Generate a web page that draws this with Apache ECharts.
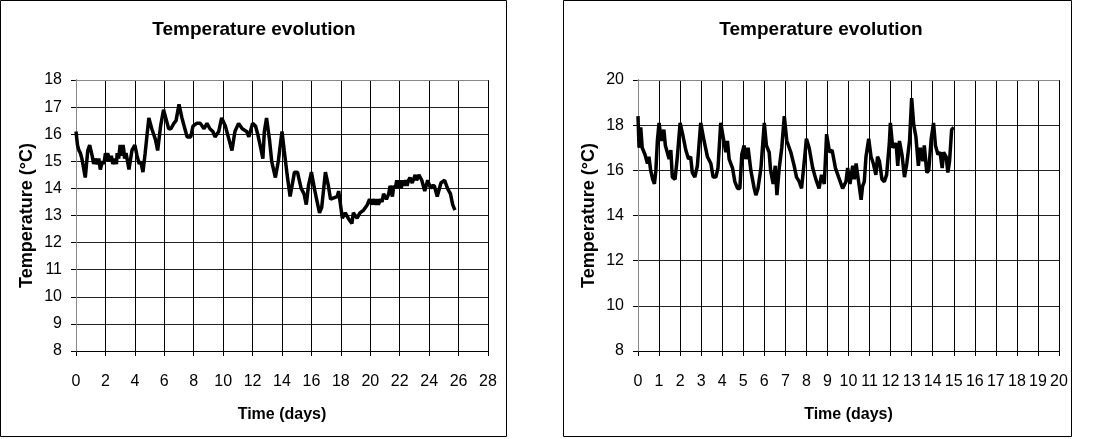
<!DOCTYPE html>
<html>
<head>
<meta charset="utf-8">
<title>Temperature evolution</title>
<script src="https://cdn.jsdelivr.net/npm/echarts@6/dist/echarts.min.js"></script>
<style>
html,body{margin:0;padding:0;background:#fff;}
#main{width:1112px;height:439px;}
</style>
</head>
<body>
<div id="main"></div>
<script>
// left chart : ~26 days of readings
var leftDays = [0,0.1,0.2,0.3,0.4,0.5,0.63,0.8,0.93,1.1,1.2,1.3,1.45,1.55,1.65,1.8,1.9,2.0,2.1,2.15,2.3,2.4,2.5,2.65,2.75,2.8,2.9,3.0,3.1,3.2,3.25,3.3,3.4,3.6,3.8,4.0,4.15,4.3,4.4,4.55,4.7,4.95,5.15,5.4,5.55,5.75,5.95,6.2,6.3,6.45,6.65,6.8,7.0,7.2,7.45,7.55,7.8,7.95,8.2,8.45,8.7,8.9,9.1,9.3,9.45,9.7,9.9,10.15,10.4,10.6,10.8,11.05,11.3,11.6,11.75,12.0,12.2,12.35,12.55,12.7,12.8,12.95,13.15,13.3,13.55,13.75,14.0,14.15,14.35,14.55,14.85,15.05,15.3,15.5,15.65,15.8,16.0,16.2,16.35,16.55,16.7,16.95,17.15,17.3,17.75,17.85,17.95,18.1,18.3,18.5,18.75,18.85,19.1,19.3,19.55,19.8,
	19.95,20.1,20.2,20.35,20.45,20.55,20.7,20.8,20.9,21.1,21.25,21.35,21.5,21.6,21.7,21.8,21.9,22.0,22.1,22.2,22.3,22.4,22.5,22.6,22.7,22.85,23.05,23.15,23.3,23.5,23.7,23.9,24.1,24.2,24.35,24.55,24.8,25.05,25.25,25.45,25.6,25.75];
var leftTemps = [16.1,15.6,15.4,15.3,15.1,14.8,14.4,15.4,15.6,15.2,14.9,15.1,14.9,15.1,14.7,15.0,14.9,15.3,15.0,15.3,15.0,15.2,14.9,15.1,14.9,15.3,15.1,15.6,15.2,15.6,15.4,15.1,15.3,14.7,15.4,15.6,15.2,14.9,15.0,14.6,15.3,16.6,16.2,15.8,15.4,16.3,16.9,16.4,16.2,16.2,16.4,16.5,17.1,16.6,16.1,15.9,15.9,16.3,16.4,16.4,16.2,16.4,16.2,16.1,15.9,16.1,16.6,16.3,15.8,15.4,16.1,16.4,16.2,16.1,15.9,16.4,16.3,16.0,15.5,15.1,16.1,16.6,15.8,15.0,14.4,15.0,16.1,15.4,14.5,13.7,14.6,14.6,14.0,13.8,13.4,14.1,14.6,14.0,13.6,13.1,13.3,14.6,14.1,13.6,13.7,13.9,13.5,12.9,13.1,12.9,12.7,13.1,12.9,13.1,13.2,13.4,
	13.6,13.4,13.6,13.4,13.6,13.4,13.6,13.5,13.8,13.6,13.8,14.1,13.7,14.1,14.0,14.3,14.0,14.3,14.0,14.3,14.1,14.3,14.1,14.3,14.4,14.2,14.5,14.3,14.5,14.3,13.9,14.3,14.0,14.1,14.1,13.7,14.2,14.3,14.0,13.8,13.4,13.2];

// right chart : ~15 days of readings
var rightDays = [0,0.05,0.13,0.2,0.33,0.45,0.52,0.6,0.7,0.78,0.85,0.92,1.0,1.12,1.23,1.3,1.48,1.56,1.63,1.76,1.87,2.0,2.12,2.27,2.4,2.5,2.58,2.7,2.82,2.98,3.14,3.3,3.46,3.57,3.7,3.8,3.93,4.06,4.17,4.25,4.33,4.49,4.6,4.73,4.84,4.93,5.04,5.12,5.23,5.36,5.52,5.6,5.7,5.84,6.0,6.1,6.23,6.3,6.42,6.52,6.6,6.71,6.83,6.95,7.07,7.26,7.42,7.53,7.66,7.77,7.9,8.0,8.13,8.3,8.45,8.6,8.72,8.85,8.96,9.1,9.22,9.38,9.53,9.72,9.88,9.96,10.07,10.2,10.28,10.36,10.48,10.6,10.67,10.75,10.83,10.96,11.07,11.18,11.3,11.38,11.47,11.59,11.7,11.81,11.94,11.99,12.1,12.26,12.34,12.42,12.54,12.66,12.77,12.9,13.0,13.1,13.2,13.32,13.41,13.53,13.6,13.72,13.81,13.93,14.04,14.13,14.25,14.35,14.45,14.52,14.64,14.72,14.8,14.9,15.0];
var rightTemps = [18.4,17.0,17.9,17.0,16.7,16.3,16.6,16.0,15.6,15.4,16.0,17.3,18.1,17.3,17.8,17.1,16.5,16.9,15.7,15.6,16.6,18.1,17.6,16.9,16.5,16.6,15.9,15.7,16.2,18.1,17.3,16.6,16.3,15.7,15.7,16.1,18.1,17.4,16.8,17.3,16.5,16.1,15.5,15.2,15.2,16.7,17.1,16.5,17.0,16.0,15.2,14.9,15.2,16.1,18.1,17.1,16.8,16.0,15.4,16.2,14.9,16.1,17.0,18.4,17.3,16.8,16.2,15.7,15.5,15.2,16.4,17.4,17.0,16.1,15.6,15.2,15.8,15.4,17.6,16.8,16.9,16.1,15.7,15.2,15.5,16.1,15.4,16.2,15.6,16.3,15.5,14.7,15.3,15.5,16.6,17.4,16.6,16.3,15.8,16.6,16.4,15.6,15.5,15.8,17.2,18.1,17.0,17.2,16.2,17.3,16.7,15.7,16.3,17.3,19.2,18.0,17.5,16.2,17.0,16.4,17.1,15.9,16.0,17.4,18.1,17.1,16.7,16.8,16.1,16.8,16.6,15.9,16.4,17.8,17.9];

function pairs(xs,ys){
	var out = new Array();
	for(var i=0;i<xs.length;i++){
		out.push([xs[i],ys[i]]);
	}
	return out;
}

var font = 'Liberation Sans, Arial, sans-serif';

function xAx(grid,max,step){
	return {
		type:'value',gridIndex:grid,min:0,max:max,interval:step,
		name:'Time (days)',nameLocation:'middle',nameGap:56,
		nameTextStyle:{color:'#000',fontSize:16,fontWeight:'bold',fontFamily:font},
		axisLine:{lineStyle:{color:'#000',width:1}},
		axisTick:{show:true,length:5,lineStyle:{color:'#000'}},
		axisLabel:{color:'#000',fontSize:16,fontFamily:font,margin:23},
		splitLine:{show:true,lineStyle:{color:'#000',width:1}}
	};
}
function yAx(grid,min,max,step){
	return {
		type:'value',gridIndex:grid,min:min,max:max,interval:step,
		name:'Temperature (°C)',nameLocation:'middle',nameGap:40,
		nameTextStyle:{color:'#000',fontSize:18,fontWeight:'bold',fontFamily:font},
		axisLine:{show:true,lineStyle:{color:'#000',width:1}},
		axisTick:{show:true,length:5,lineStyle:{color:'#000'}},
		axisLabel:{color:'#000',fontSize:16,fontFamily:font,margin:14},
		splitLine:{show:true,lineStyle:{color:'#222',width:1}}
	};
}
// gray frame on top and right side of each plot
function frameX(grid,max){
	return {type:'value',gridIndex:grid,position:'top',min:0,max:max,z:5,
		axisLine:{lineStyle:{color:'#888'}},axisTick:{show:false},axisLabel:{show:false},splitLine:{show:false}};
}
function frameY(grid,min,max){
	return {type:'value',gridIndex:grid,position:'right',min:min,max:max,z:5,
		axisLine:{show:true,lineStyle:{color:'#888'}},axisTick:{show:false},axisLabel:{show:false},splitLine:{show:false}};
}

var myChart = echarts.init(document.getElementById('main'));
option = {
	backgroundColor:'#fff',
	animation:false,
	title:[
		{text:'Temperature evolution',left:249,top:15,textAlign:'center',
		 textStyle:{fontSize:19,fontWeight:'bold',color:'#000',fontFamily:font}},
		{text:'Temperature evolution',left:816,top:15,textAlign:'center',
		 textStyle:{fontSize:19,fontWeight:'bold',color:'#000',fontFamily:font}}
	],
	graphic:[
		{type:'rect',shape:{x:0.5,y:0.5,width:506,height:436},style:{fill:null,stroke:'#000',lineWidth:1},z:-1},
		{type:'rect',shape:{x:563.5,y:0.5,width:508,height:436},style:{fill:null,stroke:'#000',lineWidth:1},z:-1}
	],
	grid:[
		{left:76,top:80,width:412,height:271},
		{left:638,top:80,width:421,height:271}
	],
	xAxis:[xAx(0,28,2),xAx(1,20,1),frameX(0,28),frameX(1,20)],
	yAxis:[yAx(0,8,18,1),yAx(1,8,20,2),frameY(0,8,18),frameY(1,8,20)],
	series:[
		{type:'line',xAxisIndex:0,yAxisIndex:0,data:pairs(leftDays,leftTemps),
		 showSymbol:false,lineStyle:{color:'#000',width:3.5},z:10},
		{type:'line',xAxisIndex:1,yAxisIndex:1,data:pairs(rightDays,rightTemps),
		 showSymbol:false,lineStyle:{color:'#000',width:3.5},z:10}
	]
};
myChart.setOption(option);
</script>
</body>
</html>
